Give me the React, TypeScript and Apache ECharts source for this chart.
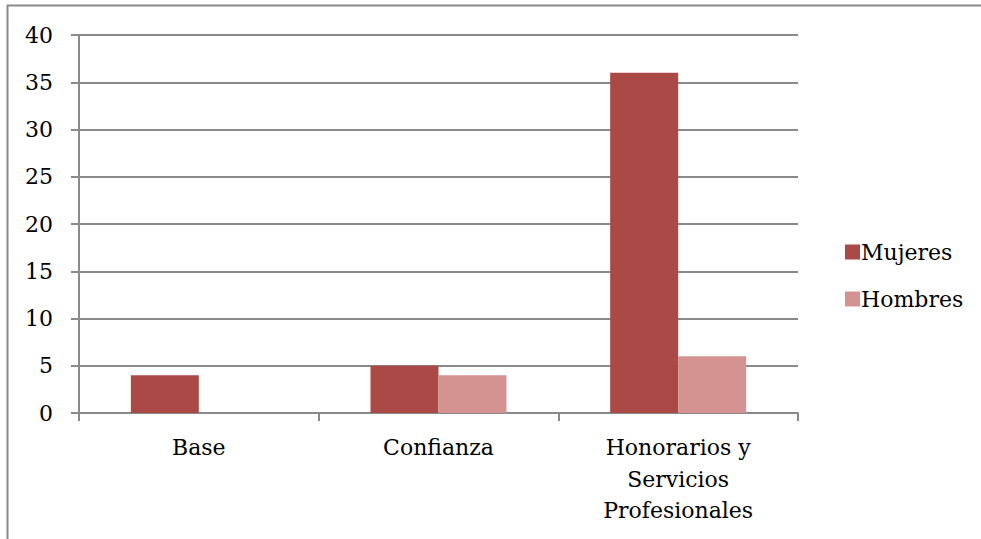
import React, { useEffect, useRef } from "react";
import * as echarts from "echarts";

const categories = ["Base", "Confianza", "Honorarios y\nServicios\nProfesionales"];
const mujeres = [4, 5, 36];
const hombres = [0, 4, 6];
const yTicks = { min: 0, max: 40, interval: 5 };

const FONT = "DejaVu Serif";

export default function App() {
  const ref = useRef<HTMLDivElement>(null);
  useEffect(() => {
    if (!ref.current) return;
    const chart = echarts.init(ref.current, undefined, { renderer: "svg" });
    chart.setOption({
      animation: false,
      backgroundColor: "#ffffff",
      textStyle: { fontFamily: FONT },
      graphic: [
        {
          type: "rect",
          shape: { x: 7.5, y: 5.5, width: 1200, height: 800 },
          style: { fill: "none", stroke: "#8a8a8a", lineWidth: 2 },
          silent: true,
        },
      ],
      grid: { left: 79, right: 183, top: 35, bottom: 126 },
      legend: {
        orient: "vertical",
        left: 840,
        top: 234,
        itemWidth: 15,
        itemHeight: 15,
        itemGap: 21,
        icon: "rect",
        textStyle: { fontFamily: FONT, fontSize: 22, color: "#000", padding: [0, 0, 0, -4], lineHeight: 26 },
        data: ["Mujeres", "Hombres"],
      },
      xAxis: {
        type: "category",
        data: categories,
        axisLine: { lineStyle: { color: "#8a8a8a", width: 2 } },
        axisTick: { show: true, length: 8, interval: 0, lineStyle: { color: "#8a8a8a", width: 2 } },
        axisLabel: {
          interval: 0,
          margin: 19,
          fontFamily: FONT,
          fontSize: 22,
          color: "#000",
          lineHeight: 31.5,
        },
      },
      yAxis: {
        type: "value",
        min: yTicks.min,
        max: yTicks.max,
        interval: yTicks.interval,
        axisLine: { show: true, lineStyle: { color: "#8a8a8a", width: 2 } },
        axisTick: { show: true, length: 8, lineStyle: { color: "#8a8a8a", width: 2 } },
        splitLine: { lineStyle: { color: "#8a8a8a", width: 2 } },
        axisLabel: { fontFamily: FONT, fontSize: 22, color: "#000", margin: 26 },
      },
      series: [
        {
          name: "Mujeres",
          type: "bar",
          data: mujeres,
          barWidth: 68,
          barGap: "0%",
          itemStyle: { color: "#AA4946" },
        },
        {
          name: "Hombres",
          type: "bar",
          data: hombres,
          barWidth: 68,
          barGap: "0%",
          itemStyle: { color: "#D49391" },
        },
      ],
    });
    return () => chart.dispose();
  }, []);
  return (
    <div
      ref={ref}
      style={{ position: "fixed", left: 0, top: 0, width: 981, height: 539 }}
    />
  );
}
